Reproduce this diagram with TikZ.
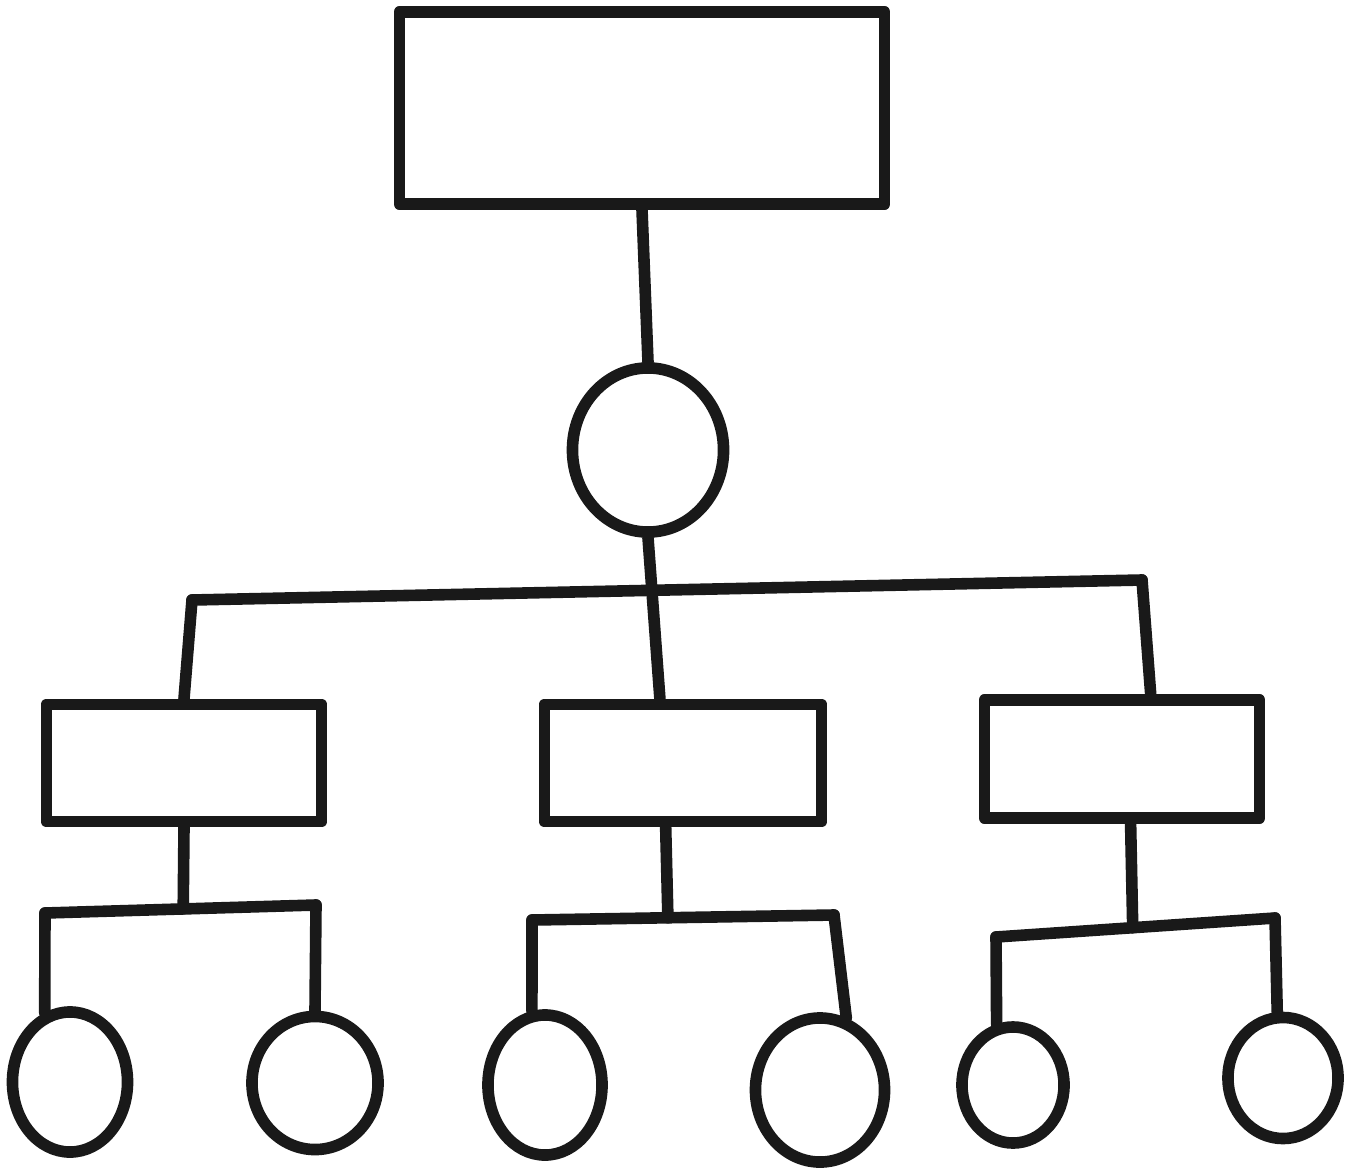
\documentclass[tikz,border=0pt]{standalone}
\usepackage{tikz}
\usetikzlibrary{shapes.geometric,calc}

\tikzset{
    pen/.style={draw=black!90, line width=3.3pt, line cap=round, line join=round},
    box/.style={pen, rectangle, inner sep=0pt},
    bubble/.style={pen, ellipse, inner sep=0pt},
}

\begin{document}
\begin{tikzpicture}[x=0.01cm, y=-0.01cm]
    \useasboundingbox (0,0) rectangle (1346,1173);

    % Top level
    \node[box, minimum width=4.85cm, minimum height=1.92cm] (top) at (642,108) {};
    \node[bubble, minimum width=1.51cm, minimum height=1.64cm] (root) at (648,450) {};
    \draw[pen] (top.south) -- (root.north);

    % Second level boxes
    \node[box, minimum width=2.75cm, minimum height=1.17cm] (left) at (184,763) {};
    \node[box, minimum width=2.77cm, minimum height=1.17cm] (mid) at (683,763) {};
    \node[box, minimum width=2.75cm, minimum height=1.18cm] (right) at (1122,759) {};

    \coordinate (barL) at (192,600);
    \coordinate (barR) at (1142,580);
    \draw[pen] (barL) -- (barR);
    \draw[pen] (barL) -- (left.north);
    \draw[pen] (barR) -- ($(right.north west)!0.6!(right.north east)$);
    \draw[pen] (root.south) -- ($(mid.north west)!0.42!(mid.north east)$);

    % Leaves
    \node[bubble, minimum width=1.15cm, minimum height=1.40cm] (leafA) at (70,1082) {};
    \node[bubble, minimum width=1.26cm, minimum height=1.33cm] (leafB) at (315,1083) {};
    \node[bubble, minimum width=1.14cm, minimum height=1.40cm] (leafC) at (545,1085) {};
    \node[bubble, minimum width=1.29cm, minimum height=1.44cm] (leafD) at (820,1090) {};
    \node[bubble, minimum width=1.02cm, minimum height=1.16cm] (leafE) at (1013,1085) {};
    \node[bubble, minimum width=1.10cm, minimum height=1.21cm] (leafF) at (1283,1078) {};

    % Left branch
    \coordinate (leftL) at (45,913);
    \coordinate (leftR) at (316,905);
    \draw[pen] (leftL) -- (leftR);
    \draw[pen] (left.south) -- ($(leftL)!0.51!(leftR)$);
    \draw[pen] (leftL) -- (leafA.110);
    \draw[pen] (leftR) -- (leafB.north);

    % Middle branch
    \coordinate (midL) at (532,920);
    \coordinate (midR) at (834,915);
    \draw[pen] (midL) -- (midR);
    \draw[pen] ($(mid.south west)!0.44!(mid.south east)$) -- ($(midL)!0.45!(midR)$);
    \draw[pen] (midL) -- (leafC.100);
    \draw[pen] (midR) -- (leafD.70);

    % Right branch
    \coordinate (rightL) at (996,937);
    \coordinate (rightR) at (1275,918);
    \draw[pen] (rightL) -- (rightR);
    \draw[pen] ($(right.south west)!0.53!(right.south east)$) -- ($(rightL)!0.49!(rightR)$);
    \draw[pen] (rightL) -- (leafE.105);
    \draw[pen] (rightR) -- (leafF.95);
\end{tikzpicture}
\end{document}
